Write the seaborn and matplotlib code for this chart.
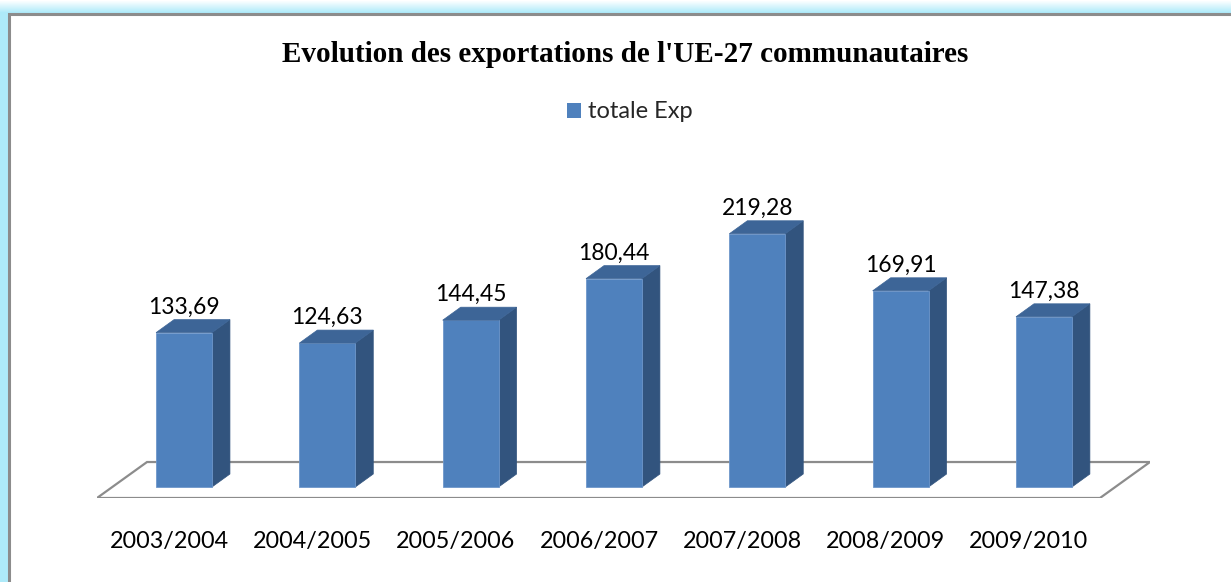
import matplotlib
matplotlib.use("Agg")
import matplotlib.pyplot as plt
import matplotlib.colors as mcolors
import seaborn as sns
import pandas as pd
from matplotlib.patches import Polygon, Rectangle, Patch
from matplotlib.transforms import ScaledTranslation

# data
periodes = ["2003/2004", "2004/2005", "2005/2006", "2006/2007",
            "2007/2008", "2008/2009", "2009/2010"]
totale_exp = [133.69, 124.63, 144.45, 180.44, 219.28, 169.91, 147.38]
serie = "totale Exp"
titre = "Evolution des exportations de l'UE-27 communautaires"

df = pd.DataFrame({"periode": periodes, "valeur": totale_exp})

# colours
FRONT = "#4F81BD"
SIDE = "#32547E"
TOP = "#3D6597"
GLOW = "#AEEAF9"
FRAME = "#8C8C8C"

W, H = 1231, 582
sns.set_theme(style="white")
plt.rcParams["font.family"] = ["Lato", "DejaVu Sans"]

fig = plt.figure(figsize=(W / 100, H / 100), dpi=100)
fig.patch.set_facecolor("white")

def fx(px):
    return px / W

def fy(py):
    return 1 - py / H

# glow around the frame (left strip + top gradient)
fig.add_artist(Rectangle((0, 0), fx(9), 1, transform=fig.transFigure,
                         facecolor=GLOW, edgecolor="none", zorder=0))
c0 = mcolors.to_rgb("white")
c1 = mcolors.to_rgb(GLOW)
for i in range(13):
    t = i / 12
    col = [a + (b - a) * t for a, b in zip(c0, c1)]
    fig.add_artist(Rectangle((0, fy(i + 1)), 1, 1 / H, transform=fig.transFigure,
                             facecolor=col, edgecolor="none", zorder=0))
# white chart area with grey frame (runs past right / bottom edges)
fig.add_artist(Rectangle((fx(9), fy(H + 20)), 1.1, (H + 20 - 14) / H,
                         transform=fig.transFigure, facecolor="white",
                         edgecolor=FRAME, linewidth=2.2, zorder=1))

# plot area
left_px, right_px, bot_px, top_px = 97, 1150, 498, 150
ax = fig.add_axes([fx(left_px), fy(bot_px), fx(right_px - left_px), (bot_px - top_px) / H])
ax.set_zorder(2)
ax.patch.set_alpha(0)

sns.barplot(data=df, x="periode", y="valeur", color=FRONT, saturation=1,
            width=0.39, edgecolor="#6E97CB", linewidth=0.6, ax=ax, zorder=3)

ax.set_xlim(-0.607, 6.74)
ax.set_ylim(-9.5, 291.8)
ax.set_xlabel("")
ax.set_ylabel("")
ax.set_yticks([])
sns.despine(ax=ax, left=True, bottom=True)

# floor of the 3D chart
floor = Polygon([(0, 0), (0.9525, 0), (1, 0.1034), (0.0475, 0.1034)], closed=True,
                transform=ax.transAxes, facecolor="white", edgecolor=FRAME,
                linewidth=1.6, zorder=1)
ax.add_patch(floor)

# depth of the bars, in pixels -> data units
p0 = ax.transData.transform((0, 0))
p1 = ax.transData.transform((1, 1))
dx = 18 / (p1[0] - p0[0])
dy = 13 / (p1[1] - p0[1])

for bar, val in zip(ax.patches[:len(totale_exp)], totale_exp):
    x0 = bar.get_x()
    x1 = x0 + bar.get_width()
    h = bar.get_height()
    side = Polygon([(x1, 0), (x1 + dx, dy), (x1 + dx, h + dy), (x1, h)],
                   closed=True, facecolor=SIDE, edgecolor=SIDE, linewidth=0.5, zorder=2)
    top = Polygon([(x0, h), (x1, h), (x1 + dx, h + dy), (x0 + dx, h + dy)],
                  closed=True, facecolor=TOP, edgecolor=TOP, linewidth=0.5, zorder=4)
    ax.add_patch(side)
    ax.add_patch(top)
    ax.annotate(f"{val:.2f}".replace(".", ","), (x0 + bar.get_width() / 2, h + dy),
                xytext=(0, 1.5), textcoords="offset points", ha="center", va="bottom",
                fontsize=16.5, color="black", zorder=5)

ax.tick_params(axis="x", length=0, pad=24, labelsize=16.8, labelcolor="black")
for lab in ax.get_xticklabels():
    lab.set_transform(lab.get_transform() + ScaledTranslation(-0.15, 0, fig.dpi_scale_trans))

# title and legend
fig.text(fx(625), fy(54), titre, ha="center", va="center",
         family="Liberation Serif", fontweight="bold", fontsize=21, color="black")
fig.legend(handles=[Patch(facecolor=FRONT, edgecolor="none", label=serie)],
           loc="center", bbox_to_anchor=(fx(630), fy(112)), frameon=False,
           fontsize=17, handlelength=0.6, handleheight=0.6, handletextpad=0.3)

fig.savefig("out.png", dpi=100)
